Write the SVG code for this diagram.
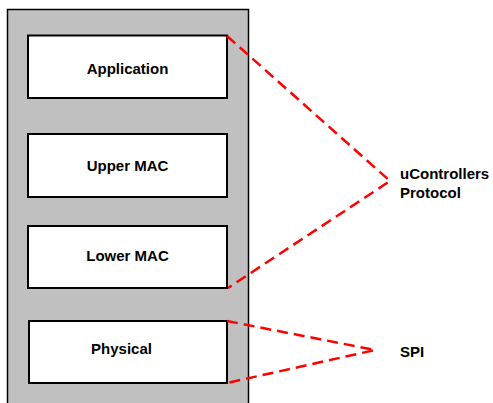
<svg xmlns="http://www.w3.org/2000/svg" width="493" height="403" viewBox="0 0 493 403">
<style>
.layer{fill:#fff;stroke:#000;stroke-width:2}
.lbl{font-family:"Liberation Sans",Arial,sans-serif;font-weight:bold;font-size:15px;fill:#000}
.c{text-anchor:middle;dominant-baseline:central}
.dash{fill:none;stroke:#f00;stroke-width:2.5;stroke-dasharray:11,6}
</style>
<rect width="493" height="403" fill="#fff"/>
<g id="stack">
<rect x="7.5" y="9.5" width="241" height="400" fill="#c0c0c0" stroke="#000" stroke-width="1.5"/>
</g>
<g id="application">
<rect class="layer" x="28" y="35.5" width="199" height="62.5"/>
<text class="lbl c" x="127.5" y="68">Application</text>
</g>
<g id="upper-mac">
<rect class="layer" x="28" y="134" width="199" height="63"/>
<text class="lbl c" x="127.5" y="165.5">Upper MAC</text>
</g>
<g id="lower-mac">
<rect class="layer" x="28" y="226" width="199" height="62"/>
<text class="lbl c" x="127.5" y="255">Lower MAC</text>
</g>
<g id="physical">
<rect class="layer" x="29" y="321" width="198" height="62"/>
<text class="lbl c" x="121.5" y="348">Physical</text>
</g>
<g id="connectors">
<polyline class="dash" points="227,36 390,181 228,288"/>
<polyline class="dash" points="227,321 375,350 227,383"/>
</g>
<g id="ucontrollers-protocol">
<text class="lbl" x="400" y="179">uControllers</text>
<text class="lbl" x="400" y="198">Protocol</text>
</g>
<g id="spi">
<text class="lbl" x="400" y="351" dominant-baseline="central">SPI</text>
</g>
</svg>
